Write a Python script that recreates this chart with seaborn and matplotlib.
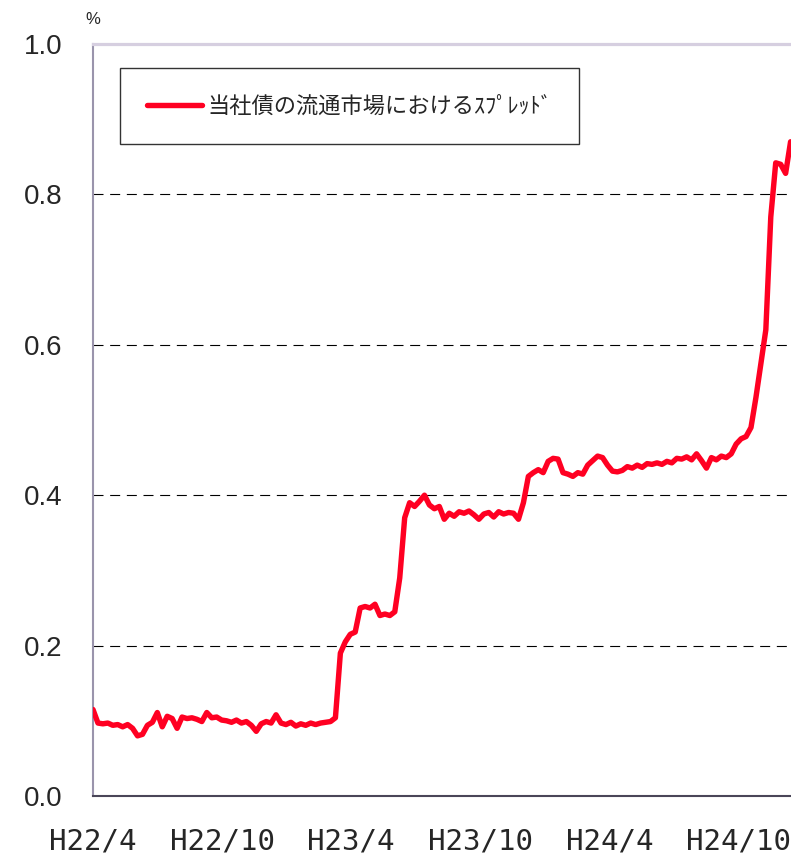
import matplotlib
matplotlib.use("Agg")
import matplotlib.pyplot as plt
import pandas as pd
import seaborn as sns

# weekly spread (%), starting H22/4 (2010-04-01)
start_date = "2010-04-01"
spread = [
    0.115, 0.097, 0.096, 0.097, 0.094, 0.095, 0.092, 0.095, 0.090, 0.080,
    0.082, 0.094, 0.098, 0.111, 0.092, 0.106, 0.103, 0.090, 0.105, 0.103,
    0.104, 0.102, 0.099, 0.111, 0.104, 0.105, 0.101, 0.100, 0.098, 0.101,
    0.097, 0.099, 0.094, 0.086, 0.096, 0.099, 0.097, 0.108, 0.097, 0.095,
    0.098, 0.093, 0.096, 0.094, 0.097, 0.095, 0.097, 0.098, 0.099, 0.104,
    0.190, 0.205, 0.215, 0.218, 0.250, 0.252, 0.250, 0.255, 0.240, 0.242,
    0.240, 0.245, 0.290, 0.370, 0.390, 0.385, 0.392, 0.400, 0.387, 0.382,
    0.385, 0.368, 0.376, 0.372, 0.378, 0.376, 0.379, 0.374, 0.368, 0.375,
    0.377, 0.371, 0.378, 0.375, 0.377, 0.376, 0.368, 0.390, 0.425, 0.430,
    0.434, 0.430, 0.445, 0.449, 0.448, 0.430, 0.428, 0.425, 0.430, 0.428,
    0.440, 0.446, 0.452, 0.450, 0.440, 0.432, 0.431, 0.433, 0.438, 0.436,
    0.440, 0.437, 0.442, 0.441, 0.443, 0.441, 0.445, 0.443, 0.449, 0.448,
    0.451, 0.447, 0.455, 0.446, 0.436, 0.450, 0.447, 0.452, 0.450, 0.455,
    0.468, 0.475, 0.478, 0.490, 0.530, 0.575, 0.620, 0.770, 0.842, 0.840,
    0.828, 0.870,
]

tick_dates = ["2010-04-01", "2010-10-01", "2011-04-01",
              "2011-10-01", "2012-04-01", "2012-10-01"]
tick_labels = ["H22/4", "H22/10", "H23/4", "H23/10", "H24/4", "H24/10"]
y_ticks = [0.0, 0.2, 0.4, 0.6, 0.8, 1.0]
series_label = "当社債の流通市場におけるｽﾌﾟﾚｯﾄﾞ"

dates = pd.date_range(start_date, periods=len(spread), freq="7D")
df = pd.DataFrame({"date": dates, "spread": spread})

sns.set_style("white")
plt.rcParams["font.family"] = ["Noto Sans CJK JP", "DejaVu Sans"]

fig = plt.figure(figsize=(7.91, 8.58), dpi=100)
# axes run past the right edge of the picture, as in the original crop
ax = fig.add_axes([93 / 791, 62 / 858, 711 / 791, 752 / 858])

for y in y_ticks[1:-1]:
    ax.axhline(y, color="black", linewidth=0.8, linestyle=(0, (9, 6)), zorder=1)

sns.lineplot(data=df, x="date", y="spread", color="#ff0022", linewidth=3.9,
             ax=ax, label=series_label, zorder=3)

ax.set_xlim(pd.Timestamp("2010-04-01"), pd.Timestamp("2013-01-01"))
ax.set_ylim(0, 1.0)
ax.set_xticks(pd.to_datetime(tick_dates))
ax.set_xticklabels(tick_labels, fontsize=21, family=["DejaVu Sans Mono"])
ax.set_yticks(y_ticks)
ax.set_yticklabels([f"{v:.1f}" for v in y_ticks], fontsize=20,
                   family=["Liberation Sans"])
ax.tick_params(axis="x", direction="in", length=7, width=1, color="#333333", pad=23)
ax.tick_params(axis="y", direction="in", length=7, width=1, color="#333333", pad=22)
ax.set_xlabel("")
ax.set_ylabel("")

ax.spines["left"].set_color("#9a94ac")
ax.spines["left"].set_linewidth(1.5)
ax.spines["bottom"].set_color("#4a4658")
ax.spines["bottom"].set_linewidth(1.5)
ax.spines["top"].set_color("#d6cfe0")
ax.spines["top"].set_linewidth(2.3)
ax.spines["right"].set_visible(False)

leg = ax.legend(loc="upper left", bbox_to_anchor=(120 / 791, 1 - 68 / 858),
                bbox_transform=fig.transFigure, borderaxespad=0,
                fancybox=False, framealpha=1, edgecolor="#333333",
                prop={"family": ["Noto Sans CJK JP"], "size": 16},
                handlelength=2.5, handletextpad=0.25, borderpad=1.2)
leg.get_frame().set_linewidth(1.0)

fig.text(93 / 791, 1 - 20 / 858, "%", ha="center", va="center", fontsize=12,
         family=["Liberation Sans"])

fig.savefig("out.png", dpi=100)
